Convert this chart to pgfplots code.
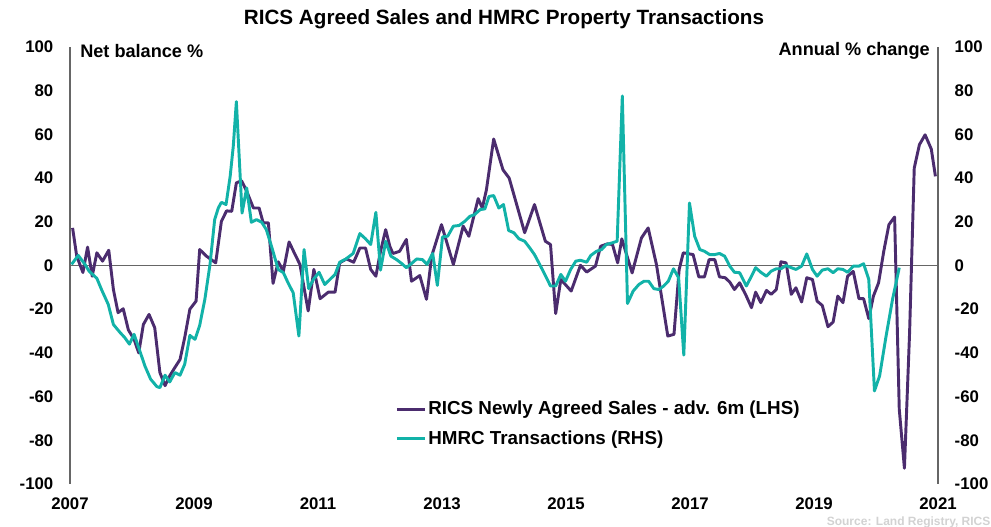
\documentclass[border=0pt]{standalone}
\usepackage{pgfplots}
\pgfplotsset{compat=1.18}
\usepackage{fontspec}
\setmainfont{Liberation Sans}
\definecolor{ricspurple}{HTML}{4B2C6E}
\definecolor{hmrcteal}{HTML}{12B2A8}
\definecolor{axgray}{HTML}{666666}

\pgfplotsset{
  base/.style={
    scale only axis, width=651pt, height=327.75pt,
    xmin=0, xmax=168, ymin=-100, ymax=100,
    separate axis lines,
    x axis line style={draw=none},
    major tick length=0pt,
    ytick={-100,-80,...,100},
    tick label style={font=\bfseries\fontsize{12.6}{14}\selectfont},
    /pgf/number format/assume math mode=true,
    clip=false,
  }
}

\begin{document}
\begin{tikzpicture}
% left axis: RICS net balance
\begin{axis}[base, name=ax,
    y axis line style={axgray, line width=0.9pt},
    yticklabel pos=left,
    yticklabel style={xshift=-9pt},
    xtick={0,24,...,168},
    xticklabels={2007,2009,2011,2013,2015,2017,2019,2021},
    xticklabel style={yshift=-7pt},
]
\addplot[axgray, line width=1pt] coordinates {(0,0) (168,0)};
\addplot[ricspurple, line width=2.2pt, line join=round] coordinates {
(0.5,17.2) (1.3,4.3) (2.5,-3.2) (3.4,8.4) (4.3,-4.9) (5.2,5.8) (6.3,2) (7.5,7)
(8.4,-11) (9.3,-21.6) (10.3,-19.8) (11.3,-29.5) (12.4,-33.8) (13.3,-40) (14.2,-27)
(15.3,-22.4) (16.4,-28.5) (17.4,-49) (18.4,-55) (19.3,-50.5) (20.3,-46.7) (21.3,-43)
(22.2,-33) (23.2,-20) (24.4,-16.3) (25.1,7.3) (26.4,4.3) (28.2,1.2) (29.3,20.2)
(30.3,25) (31.3,24.8) (32.2,37.8) (33.2,38.8) (34.2,34) (35.5,26.3) (36.6,26.3)
(37.4,19.5) (38.4,19.5) (39.3,-8.2) (40.3,1.7) (41.3,-2.6) (42.4,10.8) (43.4,5.8)
(44.5,0.5) (46.1,-20.8) (47.2,-1.8) (48.4,-15.2) (50,-12.2) (51.3,-12.2) (52.2,1.2)
(53.5,3) (54.9,1.5) (56.1,8) (57.2,8) (58.2,-1.8) (59.2,-4.9) (60.1,6.5) (61.1,16.4)
(61.9,8.8) (62.5,5.5) (63.8,6.5) (65.1,11.9) (66.1,-7.2) (67.7,-4.6) (69,-15.5)
(70,4.3) (71.9,18.7) (74.2,0.5) (76.1,18) (77.2,13.4) (79,30.6) (79.8,26.3)
(80.6,34.7) (82,57.9) (83.8,43.8) (85,40) (88,15) (89.9,27.9) (92,11.1) (93,9.6)
(94,-22) (95,-6.4) (97,-11.7) (98.8,0.1) (100,-3) (101.7,-0.3) (102.7,8.8) (104,9.9)
(105,9.6) (106,1.2) (106.8,12.2) (108.8,-3.4) (110.6,12.6) (111.9,17.2) (113.5,0.5)
(115.7,-32.3) (116.9,-31.5) (117.9,-1.8) (118.7,5.8) (120.6,5) (121.7,-5.2)
(122.8,-5.2) (123.7,2.7) (124.8,2.7) (125.7,-5.2) (126.8,-5.6) (127.7,-7.6)
(128.6,-11) (129.6,-7.9) (130.9,-14) (131.9,-19.3) (132.7,-12.2) (133.7,-17)
(134.8,-11.4) (135.7,-13.2) (136.7,-11) (137.6,1.7) (138.6,1.2) (139.6,-13.2)
(140.5,-10.2) (141.6,-16.7) (142.6,-5.6) (143.7,-6.4) (144.6,-16.3) (145.6,-18.3)
(146.7,-28) (147.7,-25.9) (148.6,-14) (149.6,-17) (150.5,-4.9) (151.6,-2.7)
(152.7,-15.2) (153.6,-15.2) (154.6,-24.3) (155.5,-14) (156.5,-7.9) (157.5,6.5)
(158.5,18.7) (159.6,22.2) (160.5,-65.8) (161.5,-92.8) (162.5,-30.7) (163.4,44.6)
(164.4,55.3) (165.5,59.8) (166.7,53.3) (167.5,40.8)
};
\end{axis}
% right axis: HMRC transactions
\begin{axis}[base,
    y axis line style={draw=none},
    yticklabel pos=right,
    yticklabel style={xshift=9pt},
    xtick=\empty,
    legend style={at={(0.370,0.202)}, anchor=north west, draw=none, fill=none,
      font=\bfseries\fontsize{14.1}{16}\selectfont, row sep=6.25pt,
      nodes={inner xsep=1.5pt}},
    legend cell align=left,
    legend image code/.code={\draw[#1] (0pt,0pt) -- (21pt,0pt);},
]
\addlegendimage{ricspurple, line width=2.2pt}
\addlegendentry{RICS Newly Agreed Sales - adv. 6m (LHS)}
\addplot[hmrcteal, line width=2.2pt, line join=round] coordinates {
(0.3,0.5) (1.6,4.6) (2.9,0.5) (3.7,-2.6) (5.2,-5.9) (6.1,-11) (7.4,-17.8) (8.4,-27)
(9.7,-30.7) (10.6,-33) (11.5,-36) (12.4,-31.5) (13.5,-39) (14.5,-46) (15.6,-52)
(16.8,-55.4) (17.4,-55.9) (18.4,-50.2) (19.3,-53.3) (20.3,-49) (21.3,-50.2)
(22.2,-45.2) (23.2,-32) (24.2,-33.8) (25.1,-27.4) (26.1,-15.5) (27.1,0.5) (28,21)
(28.7,26.3) (29.3,28.9) (30.2,27.9) (31,40.8) (31.6,54.5) (32.2,75) (33.3,24)
(34.2,35.5) (35.1,19.8) (36.1,21) (37.1,19.8) (38,16.4) (39,8.8) (40.3,-1.8)
(41.3,-3.3) (42.2,-7.9) (43.2,-12.5) (44.3,-32.3) (45.3,7.3) (46.2,-10.6) (47.1,-6.4)
(48.2,-3.1) (49.3,-8.7) (50.3,-6.4) (51.3,-4.1) (52.2,1.5) (53.4,3) (54.8,5.5)
(56.1,14.6) (57.2,12.2) (58.2,9.6) (59.2,24.3) (60.1,-2.1) (61.1,11.1) (62.1,4.3)
(63.2,2.7) (64.2,0.9) (65.1,-1) (66.1,0.9) (67.1,3) (68.2,2.7) (69.1,0.5) (70.2,5.5)
(71.1,-9.1) (72.1,13.1) (73.1,13.4) (74.2,18) (75.3,18.3) (76.4,20.2) (77.4,22.5)
(78.3,23.3) (79.4,25.6) (80.3,25.9) (81.1,31.6) (82,32) (83,26.3) (83.9,27.9)
(84.9,16) (85.9,15) (86.9,12.2) (88,11.1) (89,8) (89.9,5) (90.9,0.5) (91.9,-4.1)
(93,-9.4) (94,-9.4) (95,-4.1) (95.9,-7.2) (96.9,-1.8) (97.9,2) (98.8,2.4) (100,1.5)
(100.8,4.6) (101.9,6.5) (102.9,7.3) (103.8,9.6) (105,10.4) (105.9,11.1) (106.9,77.6)
(107.9,-17.4) (109,-11.7) (110.1,-8.7) (111.1,-7.2) (112,-7.2) (113,-10.6) (114,-11)
(114.9,-9.4) (115.8,-7.2) (116.8,-1.5) (117.8,-5.6) (118.8,-41) (119.9,28.6)
(120.9,13.4) (121.9,7.3) (122.8,6.5) (123.8,5) (124.8,5) (125.7,5.5) (126.7,4.3)
(127.7,-0.3) (128.6,-3.1) (129.6,-3.3) (130.9,-9.4) (131.9,-4.9) (132.7,-1)
(133.7,-3.1) (134.8,-4.9) (135.7,-2.6) (136.7,-1.5) (137.6,-1.5) (138.6,0)
(139.6,-1) (140.5,-1.8) (141.6,-0.3) (142.6,5.3) (143.7,-1.8) (144.6,-4.9)
(145.6,-2.1) (146.7,-1.5) (147.7,-3.3) (148.6,-1.5) (149.6,-1.8) (150.5,-3.1)
(151.6,-0.3) (152.7,-0.3) (153.6,0.8) (154.6,-6.4) (155.7,-57.4) (156.7,-50.5)
(157.9,-33) (159.2,-15.5) (160.5,-1)
};
\addlegendentry{HMRC Transactions (RHS)}
\end{axis}
% titles and axis captions
\node[font=\bfseries\fontsize{15.5}{18}\selectfont] at ([yshift=20.5pt]ax.north) {RICS Agreed Sales and HMRC Property Transactions};
\node[anchor=west, inner sep=0pt, font=\bfseries\fontsize{13.6}{15}\selectfont] at ([xshift=7.5pt,yshift=-3pt]ax.north west) {Net balance \%};
\node[anchor=east, inner sep=0pt, font=\bfseries\fontsize{13.6}{15}\selectfont] at ([xshift=-6pt,yshift=-3pt]ax.north east) {Annual \% change};
\node[anchor=south east, inner sep=0pt, text=gray!35, font=\bfseries\fontsize{9}{10}\selectfont] at ([xshift=39.5pt,yshift=-33pt]ax.south east) {Source: Land Registry, RICS};
\pgfresetboundingbox
\path[use as bounding box] ([shift={(-52.5pt,-32.25pt)}]ax.south west) rectangle ([shift={(39.75pt,35.25pt)}]ax.north east);
\end{tikzpicture}
\end{document}
